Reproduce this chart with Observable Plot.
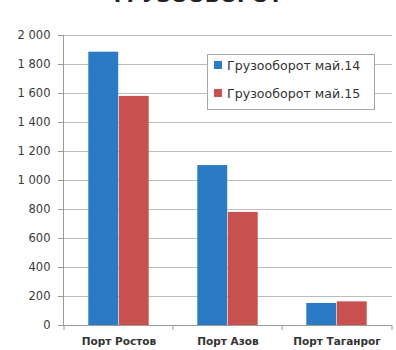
<!DOCTYPE html>
<html>
<head>
<meta charset="utf-8">
<script src="https://cdn.jsdelivr.net/npm/d3@7"></script>
<script src="https://cdn.jsdelivr.net/npm/@observablehq/plot@0.6"></script>
<style>
  html, body { margin: 0; padding: 0; background: #fff; }
  #wrap { position: relative; width: 396px; height: 350px; overflow: hidden; font-family: "DejaVu Sans", sans-serif; }
  #title { position: absolute; left: 0; width: 396px; top: -15.5px; text-align: center; font: bold 20px/20px "DejaVu Sans", sans-serif; color: #222; }
  #legend { position: absolute; left: 207px; top: 54px; width: 166px; height: 54px; border: 1px solid #a6a6a6; background: #fff; box-sizing: content-box; }
  .row { position: absolute; left: 6px; height: 14px; display: flex; align-items: center; font-size: 12.6px; color: #333; white-space: nowrap; }
  .sw { width: 8px; height: 8px; margin-right: 5px; display: inline-block; }
</style>
</head>
<body>
<div id="wrap">
  <div id="title">ГРУЗООБОРОТ</div>
  <div id="chart"></div>
  <div id="legend"></div>
</div>
<script>
const ports = ["Порт Ростов", "Порт Азов", "Порт Таганрог"];
const series = ["Грузооборот май.14", "Грузооборот май.15"];
const may14 = [1885, 1103, 152];
const may15 = [1580, 780, 163];
const yTicks = [0, 200, 400, 600, 800, 1000, 1200, 1400, 1600, 1800, 2000];
const colors = ["#2b7bc4", "#c8504e"];

const rows14 = ports.map((p, i) => ({port: p, series: series[0], value: may14[i]}));
const rows15 = ports.map((p, i) => ({port: p, series: series[1], value: may15[i]}));

const fmt = d3.formatLocale({decimal: ",", thousands: " ", grouping: [3], currency: ["", ""]}).format(",");

const boundaryTicks = (index, scales, values, dims) => {
  const g = d3.create("svg:g").attr("stroke", "#9a9a9a").attr("stroke-width", 1);
  const y0 = scales.y(0);
  const xs = ports.map(p => scales.x(p));
  xs.push(dims.width - dims.marginRight);
  for (const x of xs) {
    g.append("line").attr("x1", x).attr("x2", x).attr("y1", y0).attr("y2", y0 + 5);
  }
  return g.node();
};

const chart = Plot.plot({
  width: 396,
  height: 350,
  marginTop: 35,
  marginBottom: 25,
  marginLeft: 63,
  marginRight: 4,
  style: {fontFamily: "DejaVu Sans, sans-serif", background: "transparent"},
  x: {domain: ports, padding: 0},
  y: {domain: [0, 2000]},
  color: {domain: series, range: colors},
  marks: [
    Plot.gridY(yTicks, {stroke: "#bdbdbd", strokeOpacity: 1}),
    Plot.barY(rows14, {x: "port", y: "value", fill: "series", insetLeft: 24.3, insetRight: 54.8}),
    Plot.barY(rows15, {x: "port", y: "value", fill: "series", insetLeft: 54.8, insetRight: 24.3}),
    Plot.ruleY([0], {stroke: "#9a9a9a"}),
    Plot.frame({anchor: "left", stroke: "#9a9a9a"}),
    boundaryTicks,
    Plot.axisY({ticks: yTicks, tickSize: 5, tickPadding: 8, tickFormat: fmt, stroke: "#9a9a9a", fill: "#3a3a3a", fontSize: 11.5, label: null}),
    Plot.axisX({tickSize: 0, tickPadding: 12, fill: "#333", fontSize: 10.5, fontWeight: 600, label: null})
  ]
});
document.getElementById("chart").appendChild(chart);

const legend = document.getElementById("legend");
series.forEach((s, i) => {
  const row = document.createElement("div");
  row.className = "row";
  row.style.top = (3 + i * 28) + "px";
  const sw = document.createElement("span");
  sw.className = "sw";
  sw.style.background = colors[i];
  row.appendChild(sw);
  row.appendChild(document.createTextNode(s));
  legend.appendChild(row);
});
</script>
</body>
</html>
